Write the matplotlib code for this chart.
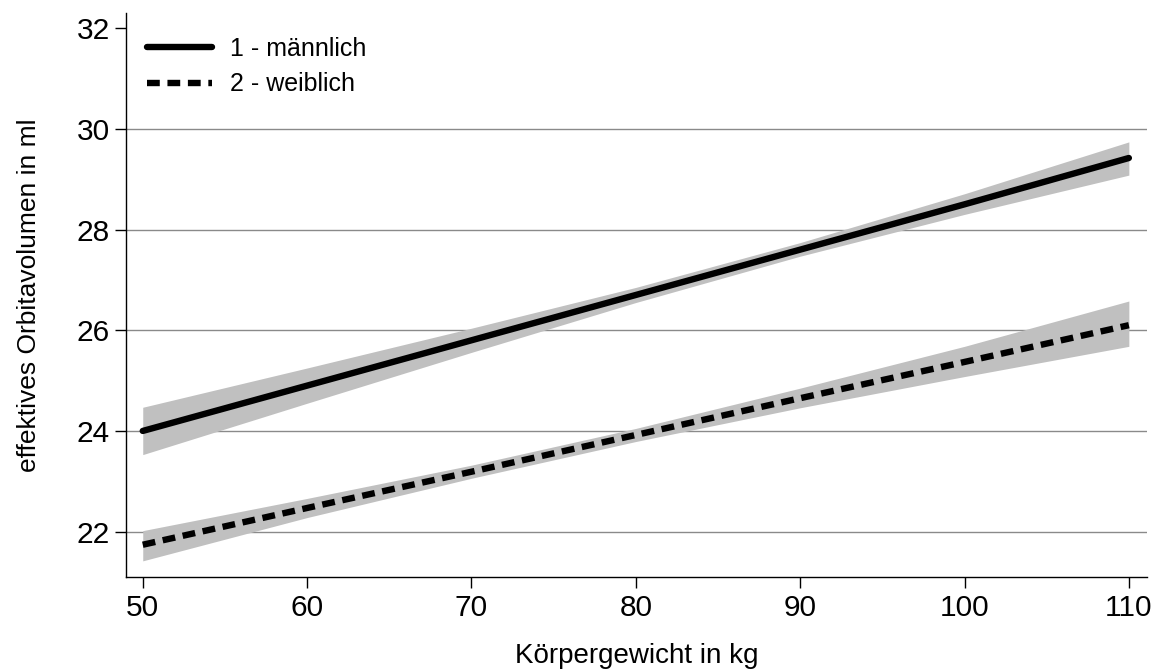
import numpy as np
import matplotlib
matplotlib.use("Agg")
import matplotlib.pyplot as plt

plt.rcParams['font.family'] = ['Liberation Sans', 'DejaVu Sans']

# === Daten ===
gewicht = [50, 60, 70, 80, 90, 100, 110]

m_mean = [24.00, 24.90, 25.80, 26.70, 27.60, 28.50, 29.42]
m_lo   = [23.53, 24.55, 25.56, 26.55, 27.47, 28.30, 29.08]
m_hi   = [24.47, 25.25, 26.04, 26.85, 27.74, 28.71, 29.74]

w_mean = [21.74, 22.47, 23.19, 23.92, 24.65, 25.37, 26.10]
w_lo   = [21.42, 22.28, 23.06, 23.79, 24.46, 25.08, 25.68]
w_hi   = [22.02, 22.66, 23.32, 24.05, 24.85, 25.68, 26.58]

labels = ['1 - männlich', '2 - weiblich']
xticks = [50, 60, 70, 80, 90, 100, 110]
yticks = [22, 24, 26, 28, 30, 32]

fig = plt.figure(figsize=(11.65, 6.72), dpi=100)
ax = fig.add_axes([0.108, 0.1414, 0.8765, 0.8393])

# Gitterlinien
for y in yticks[:-1]:
    ax.axhline(y, color='#8a8a8a', lw=1.0, zorder=0)

band = '#c0c0c0'
ax.fill_between(gewicht, m_lo, m_hi, color=band, lw=0, zorder=1)
ax.fill_between(gewicht, w_lo, w_hi, color=band, lw=0, zorder=1)

ax.plot(gewicht, m_mean, color='black', lw=4.6, solid_capstyle='round',
        label=labels[0], zorder=3)
ax.plot(gewicht, w_mean, color='black', lw=4.6, dashes=(2.0, 1.2),
        dash_capstyle='butt', label=labels[1], zorder=3)

ax.set_xlim(48.97, 111.1)
ax.set_ylim(21.1, 32.3)
ax.set_xticks(xticks)
ax.set_yticks(yticks)
ax.tick_params(axis='both', direction='out', length=8, width=1.0,
               labelsize=21.5, color='black')
ax.tick_params(axis='x', pad=4)
ax.tick_params(axis='y', pad=3.5)

for s in ['top', 'right']:
    ax.spines[s].set_visible(False)
for s in ['left', 'bottom']:
    ax.spines[s].set_linewidth(1.0)

ax.set_xlabel('Körpergewicht in kg', fontsize=20, va='baseline')
ax.xaxis.set_label_coords(0.5, -0.152)
ax.set_ylabel('effektives Orbitavolumen in ml', fontsize=19, va='center')
ax.yaxis.set_label_coords(-0.095, 0.5)

leg = ax.legend(loc='upper left', frameon=False, fontsize=18,
                handlelength=2.6, handletextpad=0.7, labelspacing=0.45,
                borderaxespad=0.0, borderpad=0.0,
                bbox_to_anchor=(0.021, 0.957))

fig.savefig('out.png', dpi=100)
